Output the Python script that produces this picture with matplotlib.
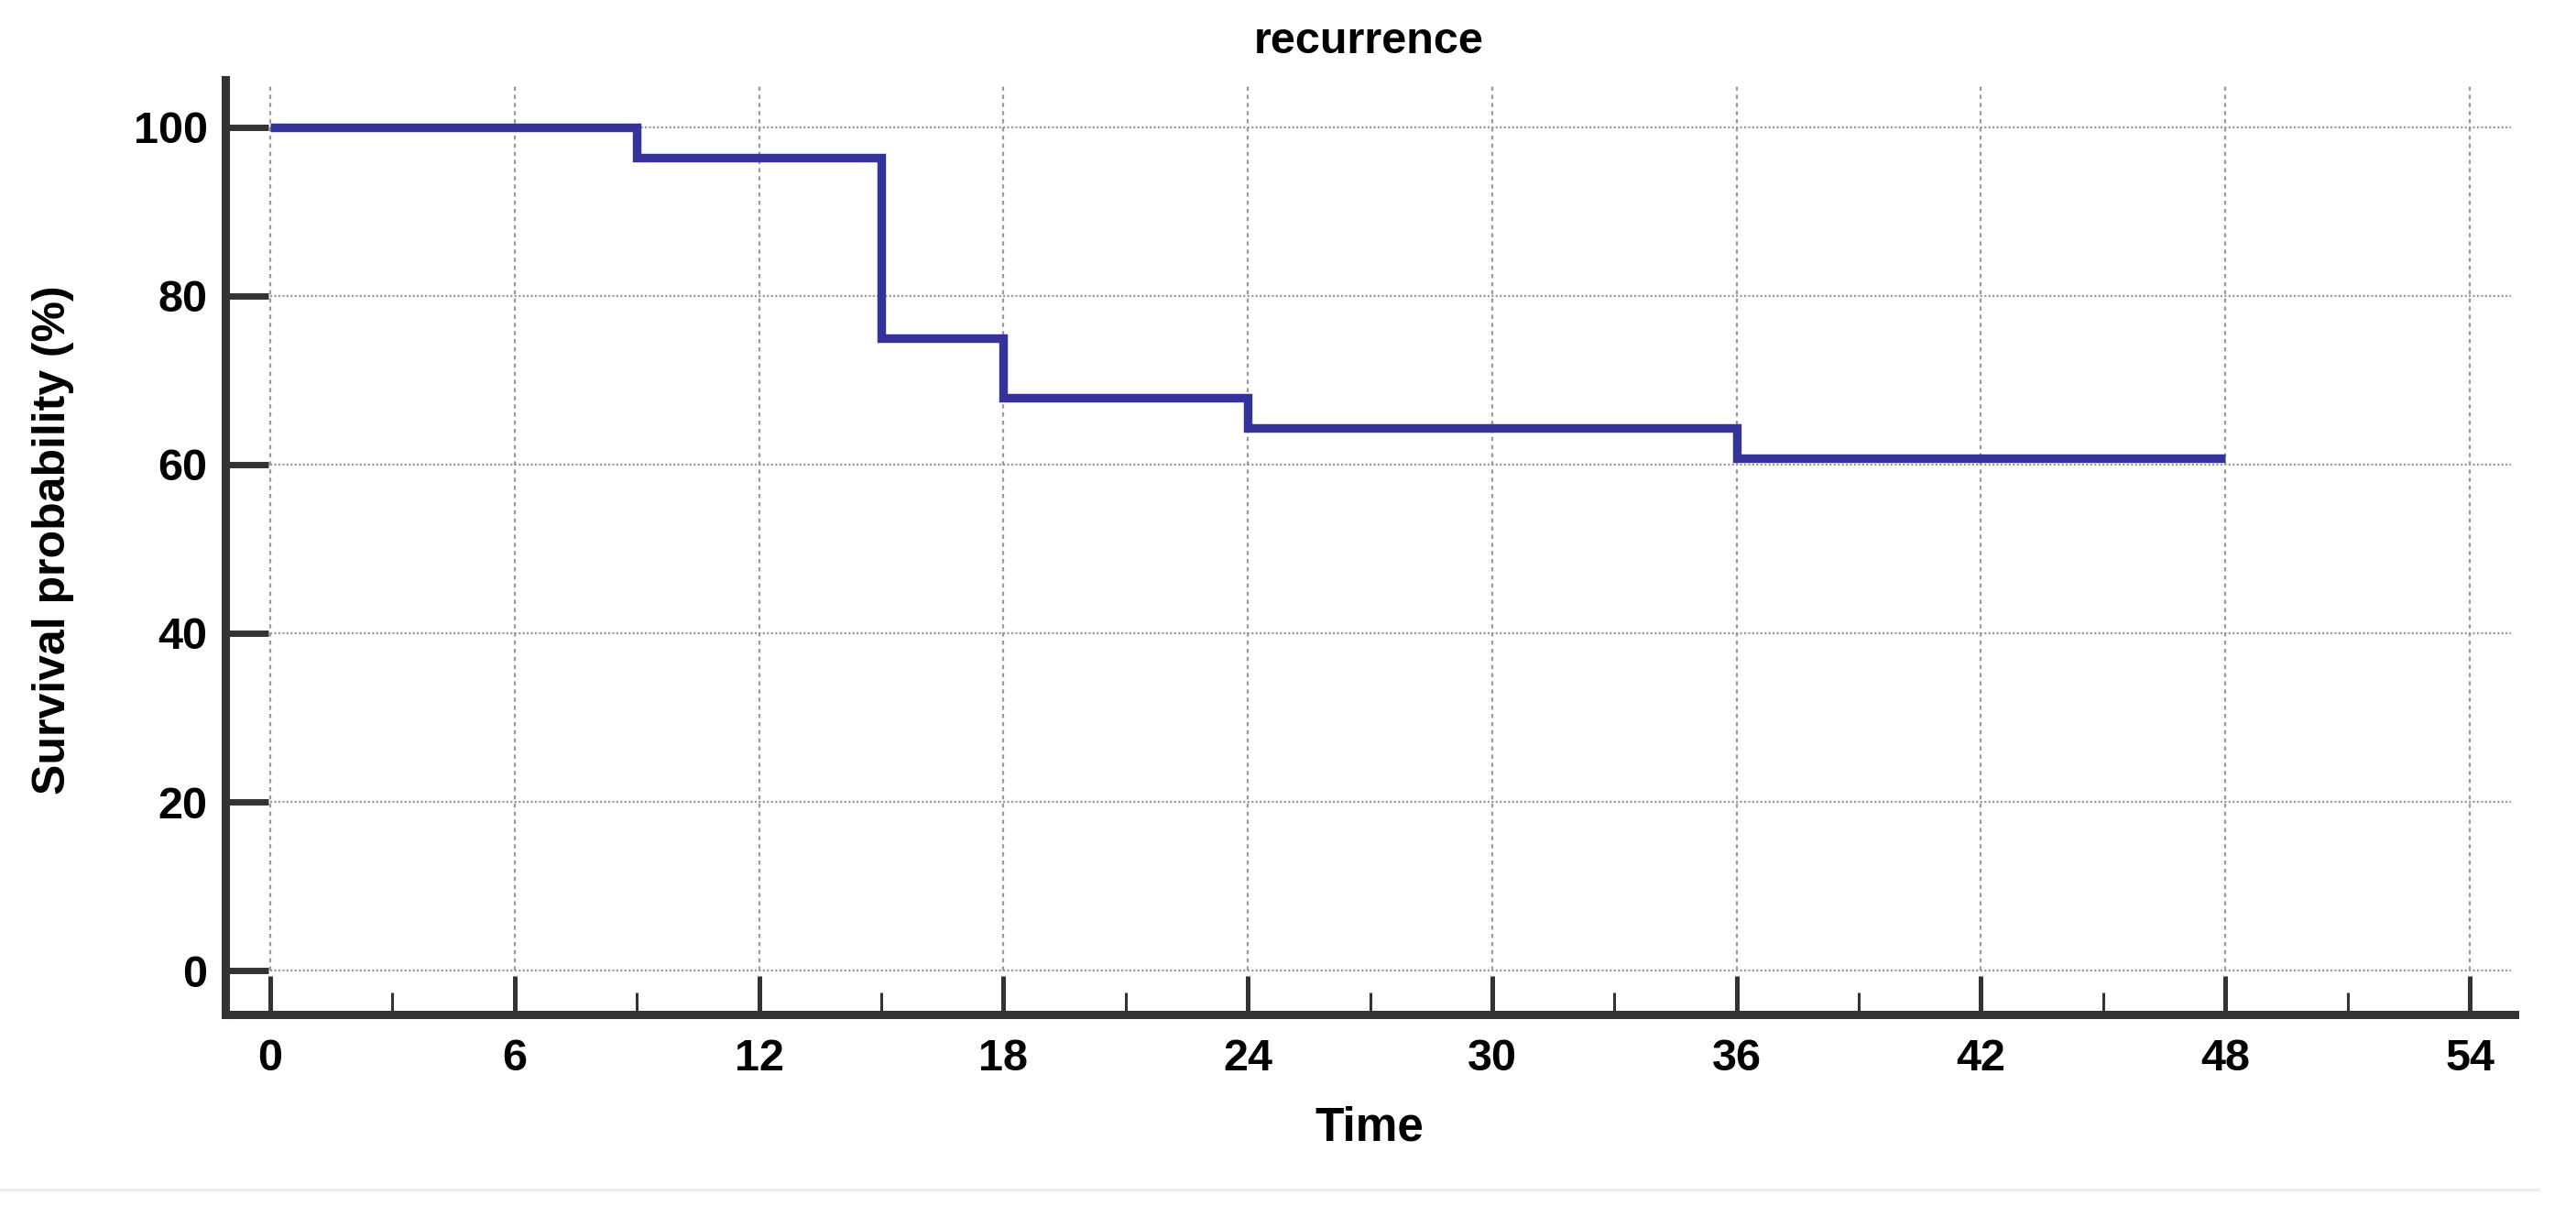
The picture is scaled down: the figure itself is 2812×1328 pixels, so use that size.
"""Kaplan-Meier style step curve: recurrence."""

import matplotlib
matplotlib.use("Agg")
import matplotlib.pyplot as plt
from matplotlib.lines import Line2D

# step curve (time, survival %)
times = [0, 9, 15, 18, 24, 36, 48]
survival = [100, 96.4, 75.0, 67.9, 64.3, 60.7, 60.7]

x_major = [0, 6, 12, 18, 24, 30, 36, 42, 48, 54]
x_minor = [3, 9, 15, 21, 27, 33, 39, 45, 51]
y_major = [0, 20, 40, 60, 80, 100]

TITLE = "recurrence"
XLABEL = "Time"
YLABEL = "Survival probability (%)"

LINE_COLOR = "#333399"
AXIS_COLOR = "#333333"
GRID_COLOR = "#9a9a9a"
FONT = ["Liberation Sans", "DejaVu Sans"]

W, H = 2812, 1328
fig = plt.figure(figsize=(W / 100, H / 100), dpi=100)

# axes box in pixels: left spine at 246, right 2745, bottom spine 1107, top 87
ax = fig.add_axes([246 / W, 1 - 1107 / H, (2745 - 246) / W, (1107 - 87) / H])
ax.set_xlim(-1.1, 55.1)
ax.set_ylim(-5.2, 105.6)

# grid only over the data region
ax.hlines(y_major, 0, 55, colors=GRID_COLOR, linewidth=1.6,
          linestyles=(0, (1, 1)), zorder=1)
ax.vlines(x_major, 0, 104.8, colors=GRID_COLOR, linewidth=1.6,
          linestyles=(0, (2, 2)), zorder=1)

ax.step(times, survival, where="post", color=LINE_COLOR, linewidth=6.8,
        solid_capstyle="butt", solid_joinstyle="miter", zorder=3)

for side in ("top", "right"):
    ax.spines[side].set_visible(False)
for side in ("left", "bottom"):
    ax.spines[side].set_linewidth(6.5)
    ax.spines[side].set_color(AXIS_COLOR)
    ax.spines[side].set_capstyle("projecting")

ax.set_xticks(x_major)
ax.set_xticks(x_minor, minor=True)
ax.set_yticks(y_major)
ax.tick_params(axis="x", which="major", direction="in", length=30, width=3.6,
               color=AXIS_COLOR, pad=19)
ax.tick_params(axis="x", which="minor", direction="in", length=17, width=2.2,
               color=AXIS_COLOR)
ax.tick_params(axis="y", which="major", direction="in", length=34, width=5,
               color=AXIS_COLOR, pad=14)

for lab in ax.get_xticklabels() + ax.get_yticklabels():
    lab.set_family(FONT)
    lab.set_fontweight("bold")
    lab.set_fontsize(35)

fig.text(1494 / W, 1 - 46 / H, TITLE, ha="center", va="center",
         family=FONT, fontweight="bold", fontsize=35)
fig.text(1495 / W, 1 - 1231 / H, XLABEL, ha="center", va="center",
         family=FONT, fontweight="bold", fontsize=37)
fig.text(58 / W, 1 - 589 / H, YLABEL, ha="center", va="center", rotation=90,
         family=FONT, fontweight="bold", fontsize=36)

# faint separator line at the bottom of the panel
fig.add_artist(Line2D([0, 2771 / W], [1 - 1298 / H] * 2, color="#eeeeee",
                      linewidth=2.5, transform=fig.transFigure))

fig.savefig("out.png", dpi=100, facecolor="white")
